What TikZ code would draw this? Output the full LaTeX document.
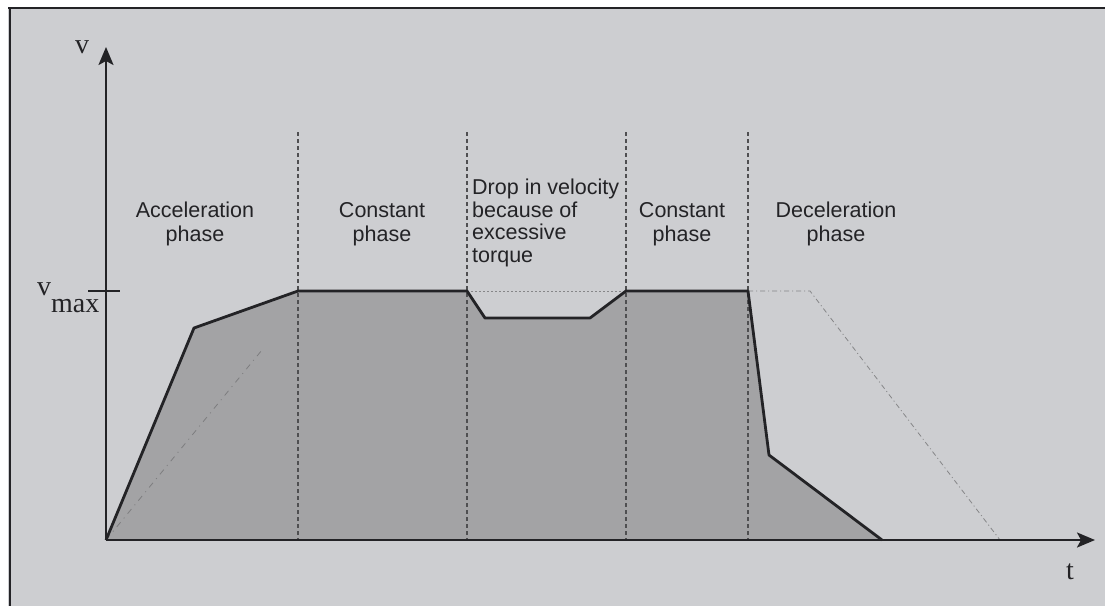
\documentclass[tikz,border=0pt]{standalone}
\usepackage{fontspec}
\setmainfont{Liberation Serif}
\setsansfont{Liberation Sans}
\usetikzlibrary{arrows.meta}
\definecolor{paper}{RGB}{205,206,209}
\definecolor{area}{RGB}{163,163,165}
\definecolor{ink}{RGB}{35,35,38}
\tikzset{
  phase/.style={font=\sffamily\fontsize{21.5}{24}\selectfont, text=ink, align=center, inner sep=0pt, anchor=base},
  axlabel/.style={font=\fontsize{28}{30}\selectfont, text=ink, inner sep=0pt, anchor=base west},
  profile/.style={draw=ink, line width=2.8pt, line join=round},
  axisline/.style={draw=ink, line width=2.4pt, -{Stealth[length=18pt,width=15pt,inset=4pt]}},
  divider/.style={draw=ink!80, line width=1.1pt, dash pattern=on 4pt off 3pt},
  ideal/.style={draw=ink!55, line width=0.8pt, dash pattern=on 5pt off 3pt on 1pt off 3pt},
  faintideal/.style={draw=ink!30!area, line width=0.8pt, dash pattern=on 6pt off 5pt on 1pt off 5pt},
  frameline/.style={draw=ink, line width=2pt}
}
\begin{document}
\begin{tikzpicture}[x=1pt,y=-1pt]
\useasboundingbox (0,0) rectangle (1105,606);
\fill[white] (0,0) rectangle (1105,606);
\fill[paper] (8,8) rectangle (1105,606);
\draw[frameline] (8,8) -- (1105,8);
\draw[frameline] (10,8) -- (10,606);
% key points
\coordinate (O) at (106,540);
\coordinate (K1) at (194,328);
\coordinate (A) at (298,291);
\coordinate (B) at (467,291);
\coordinate (C) at (485,318);
\coordinate (D) at (590,318);
\coordinate (E) at (626,291);
\coordinate (F) at (748,291);
\coordinate (G) at (769,455);
\coordinate (H) at (882,540);
\coordinate (I) at (810,291);
\coordinate (J) at (1000,540);
\coordinate (Ytip) at (106,47);
\coordinate (Xtip) at (1095,540);
\coordinate (T1) at (88,291);
\coordinate (T2) at (120,291);
\coordinate (Aend) at (262,350);
% area
\fill[area] (O) -- (K1) -- (A) -- (B) -- (C) -- (D) -- (E) -- (F) -- (G) -- (H) -- cycle;
% phase dividers
\foreach \x/\n in {298/d1,467/d2,626/d3,748/d4}{
  \coordinate (\n top) at (\x,132);
  \coordinate (\n bot) at (\x,540);
  \draw[divider] (\n top) -- (\n bot);
}
% ideal profile
\draw[faintideal] (O) -- (Aend);
\draw[ideal, dash pattern=on 1.5pt off 2.5pt] (B) -- (E);
\draw[ideal] (F) -- (I) -- (J);
% real profile
\draw[profile] (O) -- (K1) -- (A) -- (B) -- (C) -- (D) -- (E) -- (F) -- (G) -- (H);
% axes
\draw[axisline] (O) -- (Ytip);
\draw[axisline] (O) -- (Xtip);
\draw[draw=ink, line width=2.2pt] (T1) -- (T2);
% labels
\node[axlabel] (vlab) at (75,53) {v};
\node[axlabel] (tlab) at (1066,579) {t};
\node[axlabel] (vmax) at (37,295) {v\raisebox{-17pt}{max}};
\node[phase] (acc) at (195,241) {Acceleration\\phase};
\node[phase] (con1) at (382,241) {Constant\\phase};
\node[phase, anchor=base west, align=left, font=\sffamily\fontsize{21.5}{22.5}\selectfont] (drop) at (472,262) {Drop in velocity\\because of\\excessive\\torque};
\node[phase] (con2) at (682,241) {Constant\\phase};
\node[phase] (dec) at (836,241) {Deceleration\\phase};
\end{tikzpicture}
\end{document}
